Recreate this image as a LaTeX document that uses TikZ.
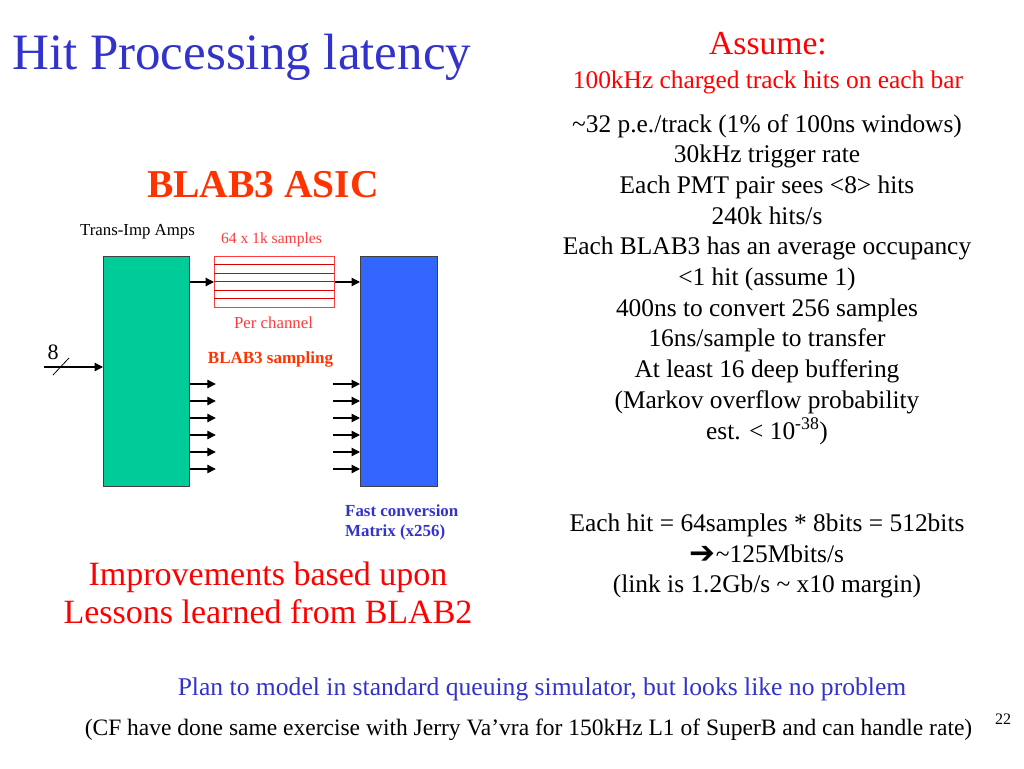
\documentclass[tikz,border=0pt]{standalone}
\usepackage{fontspec}
\setmainfont{Liberation Serif}
\newfontfamily\dejavu{DejaVu Sans}
\usetikzlibrary{arrows.meta}
\definecolor{ttlblue}{RGB}{51,51,204}
\definecolor{ampgreen}{RGB}{0,204,153}
\definecolor{convblue}{RGB}{51,102,255}
\definecolor{orred}{RGB}{255,51,0}
\definecolor{pred}{RGB}{255,0,0}
\definecolor{lred}{RGB}{255,60,60}
\newcommand{\fsz}[1]{\fontsize{#1}{#1}\selectfont}
\begin{document}
\begin{tikzpicture}[x=1pt,y=-1pt,
  txt/.style={inner sep=0pt,anchor=base},
  body/.style={txt,font=\fsz{25.4}},
  small/.style={txt,font=\fsz{16.8}},
  arr/.style={line width=1.3pt,-{Triangle[length=8.5pt,width=8.5pt]}},
  blockbox/.style={draw=black!75,line width=0.8pt,anchor=north west,inner sep=0pt}]
\useasboundingbox[fill=white] (0,0) rectangle (1024,768);

% title
\node[txt,anchor=base west,text=ttlblue,font=\fsz{51}] (title) at (12,70) {Hit Processing latency};
\node[txt,text=orred,font=\fsz{39.5}\bfseries] (asic) at (263,197) {BLAB3 ASIC};

% right column
\node[txt,text=pred,font=\fsz{33.6}] (assume) at (768,55) {Assume:};
\node[txt,text=pred,font=\fsz{25.4}] (hz) at (768,88) {100kHz charged track hits on each bar};
\node[body] (r1) at (767,132) {\textasciitilde32 p.e./track (1\% of 100ns windows)};
\node[body] (r2) at (767,162.7) {30kHz trigger rate};
\node[body] (r3) at (767,193.4) {Each PMT pair sees <8> hits};
\node[body] (r4) at (767,224.1) {240k hits/s};
\node[body] (r5) at (767,254.8) {Each BLAB3 has an average occupancy};
\node[body] (r6) at (767,285.5) {<1 hit (assume 1)};
\node[body] (r7) at (767,316.2) {400ns to convert 256 samples};
\node[body] (r8) at (767,346.9) {16ns/sample to transfer};
\node[body] (r9) at (767,377.6) {At least 16 deep buffering};
\node[body] (r10) at (767,408.3) {(Markov overflow probability};
\node[body] (r11) at (767,439) {est. < 10\textsuperscript{-38})};

\node[body] (h1) at (767,531) {Each hit = 64samples * 8bits = 512bits};
\node[body] (h2) at (767,562) {{\dejavu\fsz{31}\raisebox{-1pt}{➔}}\textasciitilde125Mbits/s};
\node[body] (h3) at (767,592) {(link is 1.2Gb/s \textasciitilde{} x10 margin)};

% improvements
\node[txt,text=pred,font=\fsz{34}] (imp1) at (268,585) {Improvements based upon};
\node[txt,text=pred,font=\fsz{34}] (imp2) at (268,623) {Lessons learned from BLAB2};

% bottom
\node[txt,text=ttlblue,font=\fsz{25.6}] (plan) at (542,695) {Plan to model in standard queuing simulator, but looks like no problem};
\node[txt,font=\fsz{23.5}] (cf) at (528.5,735) {(CF have done same exercise with Jerry Va’vra for 150kHz L1 of SuperB and can handle rate)};
\node[txt,font=\fsz{16}] (pg) at (1003,724) {22};

% diagram
\node[blockbox,fill=ampgreen,minimum width=86pt,minimum height=230pt] (amp) at (103,256) {};
\node[blockbox,fill=convblue,minimum width=77pt,minimum height=230pt] (conv) at (360,256) {};
\node[draw=lred,line width=1pt,anchor=north west,inner sep=0pt,minimum width=120pt,minimum height=51pt] (smp) at (214,256) {};
\foreach \k in {1,...,5}
  \draw[red!85!black,line width=1pt] (smp.north west) ++(0,8.5*\k) -- ++(120,0);

\draw[arr] (amp.east |- smp.west) -- (smp.west);
\draw[arr] (smp.east) -- (conv.west |- smp.east);
\foreach \y in {384,401,418,435,452,469} {
  \draw[arr] (amp.east |- 0,\y) -- ++(26,0);
  \draw[arr] (conv.west |- 0,\y) ++(-27,0) -- (conv.west |- 0,\y);
}
\coordinate (inp) at (44,367);
\draw[arr] (inp) -- (amp.west |- inp);
\draw[line width=0.8pt] (53,375) -- (69,358);
\node[txt,font=\fsz{22}] (eight) at (53,359) {8};

\node[small] (tia) at (137.5,235) {Trans-Imp Amps};
\node[small,text=lred,font=\fsz{15.6}] (sl) at (271.5,243) {64 x 1k samples};
\node[small,text=lred] (pc) at (273.5,328) {Per channel};
\node[small,text=orred,font=\fsz{17}\bfseries] (bs) at (270.5,363) {BLAB3 sampling};
\node[small,anchor=base west,text=ttlblue,font=\fsz{16.9}\bfseries] (fc1) at (345,516) {Fast conversion};
\node[small,anchor=base west,text=ttlblue,font=\fsz{16.9}\bfseries] (fc2) at (345,536) {Matrix (x256)};
\end{tikzpicture}
\end{document}
